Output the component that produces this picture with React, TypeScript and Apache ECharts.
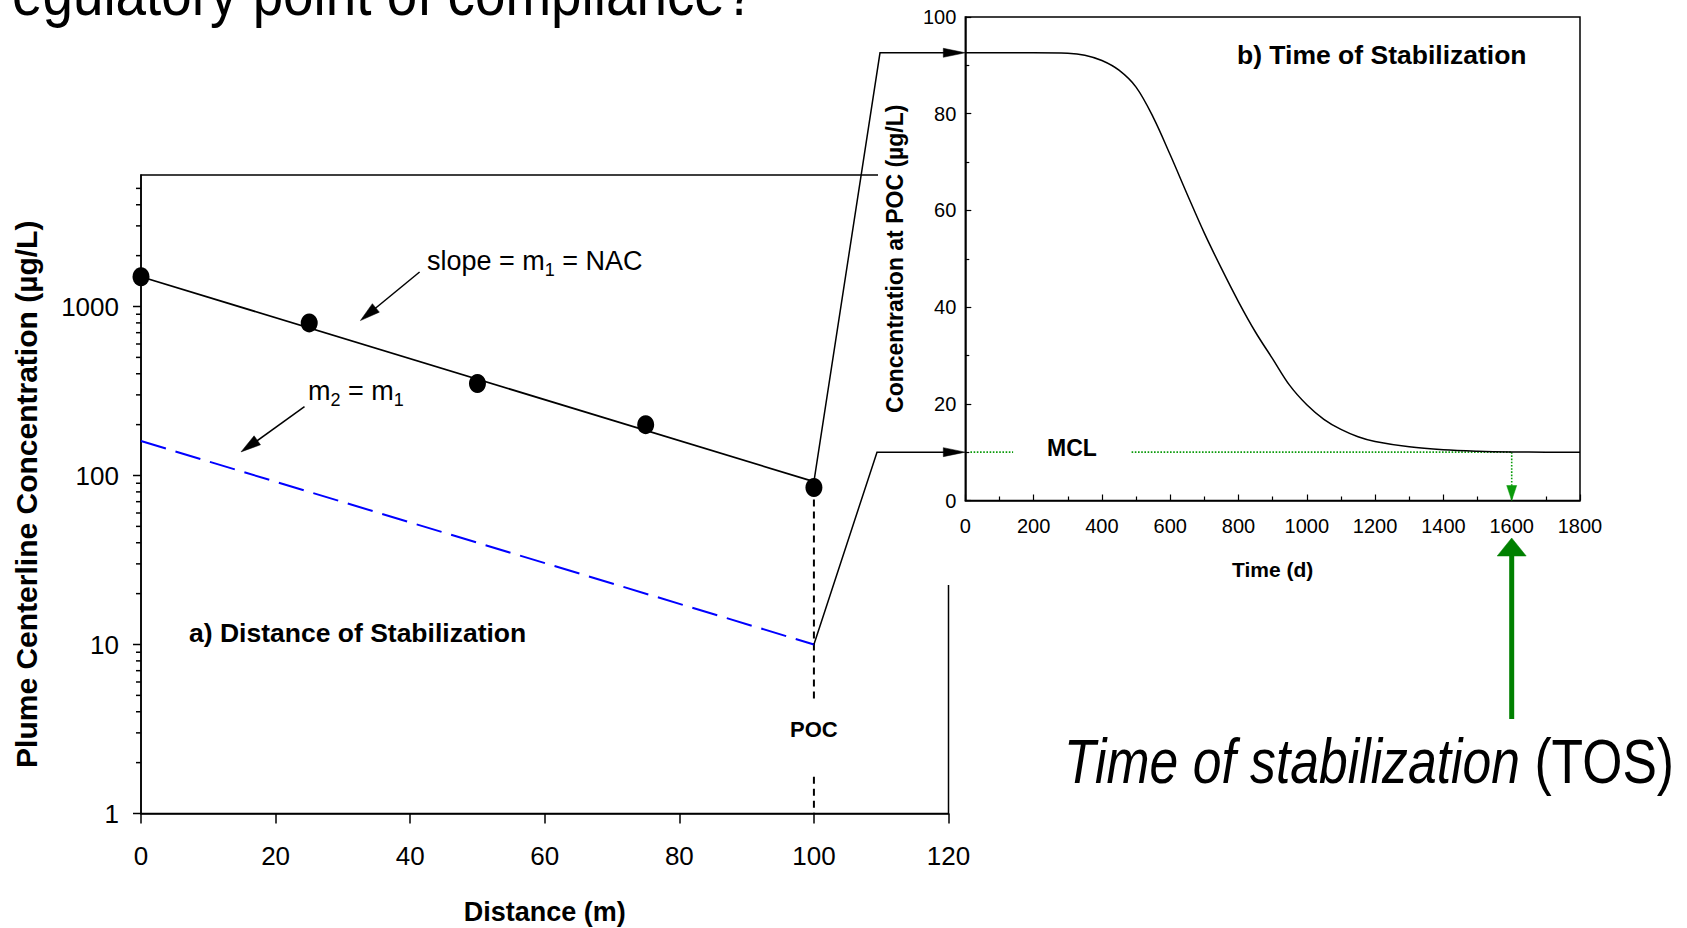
import { useEffect, useRef } from 'react';
import * as echarts from 'echarts';

// ---------- Panel a) Distance of Stabilization ----------
const distanceM = [0, 25, 50, 75, 100];
const plumeConc = [1500, 800, 350, 200, 85];
const nacFitDistance = [0, 100];
const nacFitConc = [1500, 92];
const m2Distance = [0, 100];
const m2Conc = [160, 10];
const pocDistance = 100;
const pocLineUpper = [85, 4.7];
const pocLineLower = [1.65, 1];
const distanceMin = 0;
const distanceMax = 120;
const distanceStep = 20;
const concMin = 1;
const concMax = 6000;
const concMajorTicks = [1, 10, 100, 1000];
const concMinorTicks = [2, 3, 4, 5, 6, 7, 8, 9, 20, 30, 40, 50, 60, 70, 80, 90, 200, 300, 400, 500, 600, 700, 800, 900, 2000, 3000, 4000, 5000];

// ---------- Panel b) Time of Stabilization ----------
const timeDays = [0, 100, 200, 300, 350, 400, 450, 500, 550, 600, 650, 700, 750, 800, 850, 900, 950, 1000, 1050, 1100, 1150, 1200, 1300, 1400, 1500, 1600, 1700, 1800];
const pocConc = [92.6, 92.6, 92.6, 92.5, 92.1, 91.0, 89.0, 85.5, 79.3, 71.5, 63.3, 55.3, 48.0, 41.1, 34.8, 29.3, 23.8, 19.8, 16.8, 14.7, 13.2, 12.2, 11.1, 10.5, 10.2, 10.05, 10.0, 10.0];
const mcl = 10;
const tosDays = 1600;
const mclDottedStart = [15, 487];
const mclDottedEnd = [140, 1600];
const timeMin = 0;
const timeMax = 1800;
const timeStep = 200;
const pocAxisMin = 0;
const pocAxisMax = 100;
const pocAxisStep = 20;

const FONT = "'Liberation Sans', Arial, Helvetica, sans-serif";
const GREEN = '#008000';
const DOT_GREEN = '#0a9a0a';

export default function App() {
  const ref = useRef<HTMLDivElement>(null);

  useEffect(() => {
    const chart = echarts.init(ref.current as HTMLDivElement, null, { renderer: 'svg' });

    const isDecade = (v: number) => {
      const l = Math.log10(v);
      return Math.abs(l - Math.round(l)) < 1e-6 && v <= 1000;
    };

    const plainNum = (v: number) => String(v);

    const option: any = {
      animation: false,
      textStyle: { fontFamily: FONT, color: '#000' },
      grid: [
        { left: 141, top: 175, width: 807.5, height: 638.5, show: true, borderColor: '#000', borderWidth: 1.5, backgroundColor: 'transparent', z: 0, containLabel: false, outerBoundsMode: 'none' },
        { left: 965.3, top: 17, width: 614.7, height: 483.5, show: true, borderColor: '#000', borderWidth: 1.5, backgroundColor: 'transparent', z: 10, containLabel: false, outerBoundsMode: 'none' },
      ],
      xAxis: [
        {
          gridIndex: 0, type: 'value', min: distanceMin, max: distanceMax, interval: distanceStep,
          axisLine: { show: true, onZero: false, lineStyle: { color: '#000', width: 1.5 } },
          axisTick: { show: true, length: 10, inside: false, lineStyle: { color: '#000', width: 1.5 } },
          splitLine: { show: false },
          axisLabel: { margin: 29, fontSize: 26, color: '#000', fontFamily: FONT, formatter: plainNum },
          name: 'Distance (m)', nameLocation: 'middle', nameGap: 85,
          nameTextStyle: { fontSize: 27, fontWeight: 'bold', color: '#000', fontFamily: FONT },
        },
        {
          gridIndex: 1, type: 'value', min: timeMin, max: timeMax, interval: timeStep, z: 10,
          axisLine: { show: true, onZero: false, lineStyle: { color: '#000', width: 1.5 } },
          axisTick: { show: true, length: 6, inside: true, lineStyle: { color: '#000', width: 1.2 } },
          minorTick: { show: true, splitNumber: 2, length: 4, lineStyle: { color: '#000', width: 1.2 } },
          splitLine: { show: false },
          axisLabel: { margin: 15, fontSize: 20, color: '#000', fontFamily: FONT, formatter: plainNum },
          name: 'Time (d)', nameLocation: 'middle', nameGap: 58,
          nameTextStyle: { fontSize: 21, fontWeight: 'bold', color: '#000', fontFamily: FONT },
        },
      ],
      yAxis: [
        {
          gridIndex: 0, type: 'log', logBase: 10, min: concMin, max: concMax,
          axisLine: { show: true, onZero: false, lineStyle: { color: '#000', width: 1.5 } },
          axisTick: { show: false },
          splitLine: { show: false },
          axisLabel: { margin: 22, fontSize: 26, color: '#000', fontFamily: FONT, formatter: (v: number) => (isDecade(v) ? String(Math.round(v)) : '') },
          name: 'Plume Centerline Concentration (µg/L)', nameLocation: 'middle', nameGap: 100, nameRotate: 90,
          nameTextStyle: { fontSize: 30, fontWeight: 'bold', color: '#000', fontFamily: FONT },
        },
        {
          gridIndex: 1, type: 'value', min: pocAxisMin, max: pocAxisMax, interval: pocAxisStep, z: 10,
          axisLine: { show: true, onZero: false, lineStyle: { color: '#000', width: 1.5 } },
          axisTick: { show: true, length: 6, inside: true, lineStyle: { color: '#000', width: 1.2 } },
          minorTick: { show: true, splitNumber: 2, length: 4, lineStyle: { color: '#000', width: 1.2 } },
          splitLine: { show: false },
          axisLabel: { margin: 9, fontSize: 20, color: '#000', fontFamily: FONT, formatter: plainNum },
          name: 'Concentration at POC (µg/L)', nameLocation: 'middle', nameGap: 59, nameRotate: 90,
          nameTextStyle: { fontSize: 23, fontWeight: 'bold', color: '#000', fontFamily: FONT },
        },
      ],
      series: [
        {
          type: 'line', xAxisIndex: 0, yAxisIndex: 0, silent: true, symbol: 'none', z: 3,
          data: nacFitDistance.map((d, i) => [d, nacFitConc[i]]),
          lineStyle: { color: '#000', width: 1.8 },
        },
        {
          type: 'line', xAxisIndex: 0, yAxisIndex: 0, silent: true, symbol: 'none', z: 3,
          data: m2Distance.map((d, i) => [d, m2Conc[i]]),
          lineStyle: { color: '#0000ff', width: 2, type: [26, 10] },
        },
        ...[pocLineUpper, pocLineLower].map((seg) => ({
          type: 'line', xAxisIndex: 0, yAxisIndex: 0, silent: true, symbol: 'none', z: 2,
          data: seg.map((c) => [pocDistance, c]),
          lineStyle: { color: '#000', width: 2, type: [7, 5] },
        })),
        {
          type: 'scatter', xAxisIndex: 0, yAxisIndex: 0, silent: true, z: 4,
          symbol: 'circle', symbolSize: [17, 19],
          itemStyle: { color: '#000', opacity: 1 },
          data: distanceM.map((d, i) => [d, plumeConc[i]]),
        },
        {
          type: 'custom', xAxisIndex: 0, yAxisIndex: 0, silent: true, clip: false, z: 3,
          data: [...concMajorTicks, ...concMinorTicks].map((c) => [distanceMin, c]),
          renderItem: (_params: any, api: any) => {
            const v = api.value(1);
            const p = api.coord([distanceMin, v]);
            const len = concMajorTicks.includes(v) ? 8 : 5;
            return {
              type: 'line',
              shape: { x1: p[0] - len, y1: p[1], x2: p[0], y2: p[1] },
              style: { stroke: '#000', lineWidth: 1.5 },
            };
          },
        },
        {
          type: 'line', xAxisIndex: 1, yAxisIndex: 1, silent: true, symbol: 'none', z: 12,
          smooth: 0.35,
          data: timeDays.map((t, i) => [t, pocConc[i]]),
          lineStyle: { color: '#000', width: 1.5 },
        },
        ...mclDottedStart.map((s, i) => ({
          type: 'line', xAxisIndex: 1, yAxisIndex: 1, silent: true, symbol: 'none', z: 11,
          data: [[s, mcl], [mclDottedEnd[i], mcl]],
          lineStyle: { color: DOT_GREEN, width: 1.6, type: [1.6, 1.6] },
        })),
        {
          type: 'line', xAxisIndex: 1, yAxisIndex: 1, silent: true, symbol: 'none', z: 11,
          data: [[tosDays, mcl], [tosDays, 0]],
          lineStyle: { color: DOT_GREEN, width: 1.6, type: [1.6, 1.6] },
        },
      ],
    };

    chart.setOption(option);

    const px = (g: number, v: number[]) => chart.convertToPixel({ gridIndex: g } as any, v) as unknown as number[];

    const arrowHead = (tx: number, ty: number, fx: number, fy: number, len: number, halfW: number, color: string, z = 30) => {
      const dx = tx - fx;
      const dy = ty - fy;
      const d = Math.hypot(dx, dy);
      const ux = dx / d;
      const uy = dy / d;
      const bx = tx - ux * len;
      const by = ty - uy * len;
      return {
        type: 'polygon', z, silent: true,
        shape: { points: [[tx, ty], [bx - uy * halfW, by + ux * halfW], [bx + uy * halfW, by - ux * halfW]] },
        style: { fill: color, stroke: color, lineWidth: 0.5 },
      };
    };

    const line = (pts: number[][], color = '#000', w = 1.5, z = 30) => ({
      type: 'polyline', z, silent: true,
      shape: { points: pts },
      style: { stroke: color, lineWidth: w, fill: null },
    });

    const txt = (x: number, y: number, text: string, style: any) => ({
      type: 'text', x, y, z: 40, silent: true,
      style: { text, fontFamily: FONT, fill: '#000', align: 'left', verticalAlign: 'middle', ...style },
    });

    const fitEnd = px(0, [nacFitDistance[1], nacFitConc[1]]);
    const plateau = px(1, [timeMin, pocConc[0]]);
    const m2End = px(0, [m2Distance[1], m2Conc[1]]);
    const mclStart = px(1, [timeMin, mcl]);
    const tosAxis = px(1, [tosDays, 0]);

    const graphics: any[] = [
      { type: 'rect', z: 5, silent: true, shape: { x: 878, y: 0, width: 809, height: 585 }, style: { fill: '#fff' } },

      line([fitEnd, [880, plateau[1]], [plateau[0] - 20, plateau[1]]]),
      arrowHead(plateau[0], plateau[1], plateau[0] - 30, plateau[1], 22, 4.5, '#000'),
      line([m2End, [877, mclStart[1]], [mclStart[0] - 20, mclStart[1]]]),
      arrowHead(mclStart[0], mclStart[1], mclStart[0] - 30, mclStart[1], 22, 4.5, '#000'),

      line([[419.6, 272], [366, 316]], '#000', 1.5),
      arrowHead(360.4, 320.6, 419.6, 272, 20, 5.5, '#000'),
      line([[304.5, 406.7], [247, 448]], '#000', 1.5),
      arrowHead(241, 451.9, 304.5, 406.7, 20, 5.5, '#000'),

      arrowHead(tosAxis[0], tosAxis[1], tosAxis[0], tosAxis[1] - 30, 15, 5, DOT_GREEN, 30),
      { type: 'rect', z: 30, silent: true, shape: { x: tosAxis[0] - 2.5, y: 553, width: 5, height: 166 }, style: { fill: GREEN } },
      arrowHead(tosAxis[0], 538, tosAxis[0], 600, 18, 14.5, GREEN, 30),

      {
        type: 'text', x: 12, y: -6.8, z: 40, silent: true, scaleX: 0.87,
        style: { text: 'egulatory point of compliance?', fontSize: 63, fontFamily: FONT, fill: '#000', align: 'left', verticalAlign: 'middle' },
      },
      {
        type: 'text', x: 1064, y: 761, z: 40, silent: true, scaleX: 0.82,
        style: {
          text: '{i|Time of stabilization}{r| (TOS)}',
          align: 'left', verticalAlign: 'middle', fontSize: 63, fontFamily: FONT, fill: '#000',
          rich: {
            i: { fontSize: 63, fontFamily: FONT, fontStyle: 'italic', fill: '#000' },
            r: { fontSize: 63, fontFamily: FONT, fill: '#000' },
          },
        },
      },
      {
        type: 'text', x: 427, y: 261, z: 40, silent: true,
        style: {
          text: '{n|slope = m}{s|1}{n| = NAC}',
          align: 'left', verticalAlign: 'middle', fontSize: 27, fontFamily: FONT, fill: '#000',
          rich: {
            n: { fontSize: 27, lineHeight: 36, fontFamily: FONT, fill: '#000' },
            s: { fontSize: 18, lineHeight: 18, verticalAlign: 'bottom', fontFamily: FONT, fill: '#000' },
          },
        },
      },
      {
        type: 'text', x: 308, y: 391, z: 40, silent: true,
        style: {
          text: '{n|m}{s|2}{n| = m}{s|1}',
          align: 'left', verticalAlign: 'middle', fontSize: 27, fontFamily: FONT, fill: '#000',
          rich: {
            n: { fontSize: 27, lineHeight: 36, fontFamily: FONT, fill: '#000' },
            s: { fontSize: 18, lineHeight: 18, verticalAlign: 'bottom', fontFamily: FONT, fill: '#000' },
          },
        },
      },
      txt(189, 633, 'a) Distance of Stabilization', { fontSize: 26.5, fontWeight: 'bold' }),
      txt(px(0, [pocDistance, 1])[0], 729, 'POC', { fontSize: 22, fontWeight: 'bold', align: 'center' }),
      txt(1237, 55, 'b) Time of Stabilization', { fontSize: 26.5, fontWeight: 'bold' }),
      txt(1072, 448, 'MCL', { fontSize: 23, fontWeight: 'bold', align: 'center' }),
    ];

    chart.setOption({ graphic: graphics });

    return () => chart.dispose();
  }, []);

  return (
    <div
      ref={ref}
      style={{ position: 'fixed', left: 0, top: 0, width: 1687, height: 928, background: '#fff' }}
    />
  );
}
